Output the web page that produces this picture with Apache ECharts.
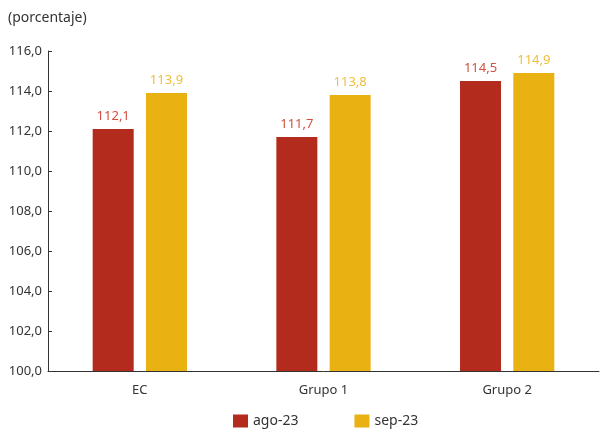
<!DOCTYPE html>
<html>
<head>
<meta charset="utf-8">
<script src="https://cdn.jsdelivr.net/npm/echarts@6/dist/echarts.min.js"></script>
<style>
  html, body { margin: 0; padding: 0; background: #fff; }
  #chart { width: 600px; height: 429px; }
</style>
</head>
<body>
<div id="chart"></div>
<script>
// Índices por grupo, agosto y septiembre 2023
const categories = ['EC', 'Grupo 1', 'Grupo 2'];
const ago23 = [112.1, 111.7, 114.5];
const sep23 = [113.9, 113.8, 114.9];
const seriesNames = ['ago-23', 'sep-23'];
const yTicks = { min: 100, max: 116, interval: 2 };

const FONT = '"Noto Sans", "Open Sans", sans-serif';
const fmt = v => v.toFixed(1).replace('.', ',');

const chart = echarts.init(document.getElementById('chart'), null, { renderer: 'canvas' });

function barSeries(name, data, color, labelColor) {
  return {
    name: name,
    type: 'bar',
    data: data,
    barWidth: 41,
    barGap: '30%',
    itemStyle: { color: color },
    label: {
      show: true,
      position: 'top',
      distance: 6,
      color: labelColor,
      fontFamily: FONT,
      fontSize: 13,
      formatter: p => fmt(p.value)
    }
  };
}

chart.setOption({
  animation: false,
  title: {
    text: '(porcentaje)',
    left: 8,
    top: 11,
    padding: 0,
    textStyle: { fontFamily: FONT, fontSize: 14, fontWeight: 'normal', color: '#333' }
  },
  grid: { left: 48, right: 1, top: 51, bottom: 58 },
  legend: {
    top: 414,
    left: 233,
    padding: 0,
    itemWidth: 15,
    itemHeight: 13,
    itemGap: 56,
    icon: 'rect',
    textStyle: { fontFamily: FONT, fontSize: 14, color: '#333' },
    data: seriesNames
  },
  xAxis: {
    type: 'category',
    data: categories,
    axisLine: { lineStyle: { color: '#333', width: 1 } },
    axisTick: { inside: true, length: 4, lineStyle: { color: '#333' } },
    axisLabel: { fontFamily: FONT, fontSize: 13, color: '#333', margin: 13 }
  },
  yAxis: {
    type: 'value',
    min: yTicks.min,
    max: yTicks.max,
    interval: yTicks.interval,
    splitLine: { show: false },
    axisLine: { show: true, lineStyle: { color: '#333', width: 1 } },
    axisTick: { show: true, inside: true, length: 4, lineStyle: { color: '#333' } },
    axisLabel: { fontFamily: FONT, fontSize: 13, color: '#333', margin: 6, formatter: v => fmt(v) }
  },
  series: [
    barSeries(seriesNames[0], ago23, '#b22b1d', '#d2503f'),
    barSeries(seriesNames[1], sep23, '#e9b112', '#efbe3c')
  ]
});
</script>
</body>
</html>
